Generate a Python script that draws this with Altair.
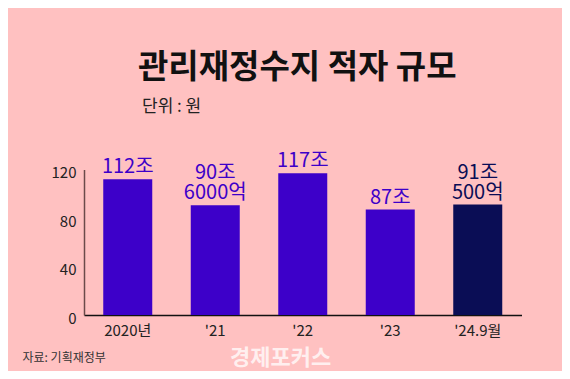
import altair as alt
import pandas as pd

categories = ["2020년", "'21", "'22", "'23", "'24.9월"]
values = [112, 90.6, 117, 87, 91.05]
labels = ["112조", "90조\n6000억", "117조", "87조", "91조\n500억"]
period = ["연간", "연간", "연간", "연간", "9월까지"]
y_ticks = [0, 40, 80, 120]

df = pd.DataFrame({"cat": categories, "val": values, "label": labels, "period": period})
df["two"] = df["label"].str.contains("\n")

FONT = "Noto Sans CJK KR"
BG = "#ffc1c1"
color_scale = alt.Scale(domain=["연간", "9월까지"], range=["#3d00c9", "#0a0d55"])

W, H = 437.5, 145.5

base = alt.Chart(df).encode(
    x=alt.X("cat:N", sort=categories, title=None,
            scale=alt.Scale(paddingInner=0.44, paddingOuter=0.22),
            axis=alt.Axis(labelAngle=0, ticks=False, domainColor="#111111", domainWidth=1.5,
                          labelFont=FONT, labelFontSize=15, labelColor="#222222", labelPadding=8)),
)

bars = base.mark_bar().encode(
    y=alt.Y("val:Q", title=None, scale=alt.Scale(domain=[0, 120], nice=False),
            axis=alt.Axis(values=y_ticks, ticks=False, grid=False, domainColor="#6b4a4a",
                          domainWidth=1.5, labelFont=FONT, labelFontSize=15, labelColor="#222222",
                          labelPadding=8, labelOffset=3)),
    color=alt.Color("period:N", scale=color_scale, legend=None),
)

enc = dict(y="val:Q", text="label:N",
           color=alt.Color("period:N", scale=color_scale, legend=None))

text_one = base.transform_filter("!datum.two").mark_text(
    font=FONT, fontSize=20, baseline="bottom", dy=-2).encode(**enc)
text_two = base.transform_filter("datum.two").mark_text(
    font=FONT, fontSize=20, baseline="bottom", dy=-22, lineBreak="\n", lineHeight=20
).encode(**enc)

def note(txt, x, y, size, weight="normal", color="#111111", opacity=1.0, align="left"):
    return alt.Chart(pd.DataFrame({"t": [txt]})).mark_text(
        font=FONT, fontSize=size, fontWeight=weight, color=color, opacity=opacity,
        align=align, baseline="middle"
    ).encode(x=alt.value(x), y=alt.value(y), text="t:N")

title = note("관리재정수지 적자 규모", 54, -101.5, 33, weight="bold", color="#111111")
subtitle = note("단위 : 원", 58, -62.5, 17, color="#222222")
source = note("자료: 기획재정부", -61.5, 188, 12, color="#333333")
mark = note("경제포커스", 146, 188, 22, weight="bold", color="#ffffff", opacity=0.75)

chart = alt.layer(bars, text_one, text_two, title, subtitle, source, mark).properties(
    width=W, height=H,
    background=BG,
    autosize=alt.AutoSizeParams(type="none"),
    padding={"left": 76, "top": 161.5, "right": 40.5, "bottom": 56},
).configure_view(stroke=None)

chart.save("out.html", embed_options={"renderer": "svg", "actions": False})
